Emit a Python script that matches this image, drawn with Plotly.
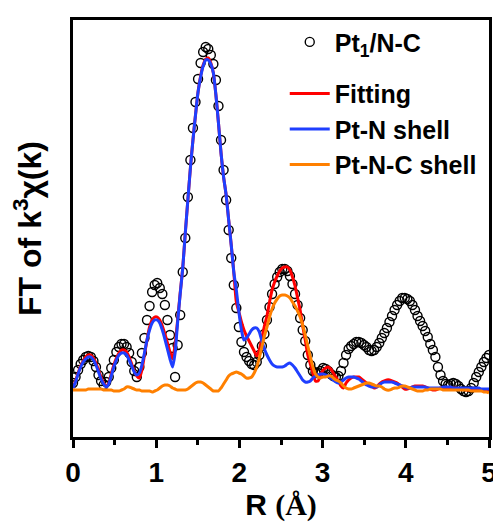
import numpy as np
import plotly.graph_objects as go

# R grid (Angstrom), spacing ~0.0307 A as in the measured FT
n_pts = 164
R = [i * 5.0 / 163 for i in range(n_pts)]

# experimental FT magnitude (arbitrary units)
pt1_nc = [54, 60, 67, 73, 77, 80, 81, 80, 76, 70, 62, 56, 52, 55, 60, 69, 77, 85, 90, 93,
          93, 90, 84, 75, 66, 60, 70, 84, 99, 117, 131, 145, 152, 154, 149, 143, 132, 117, 102, 89,
          60, 92, 122, 165, 199, 240, 277, 309, 335, 358, 374, 385, 390, 388, 382, 373, 357, 331, 297, 267,
          237, 207, 179, 152, 129, 110, 95, 85, 80, 76, 73, 72, 75, 82, 91, 103, 117, 130, 143, 153,
          160, 165, 168, 168, 166, 161, 153, 143, 132, 119, 107, 96, 82, 72, 66, 64, 64, 66, 69, 68,
          66, 63, 61, 60, 61, 66, 74, 82, 88, 91, 93, 95, 95, 94, 92, 90, 87, 86, 87, 90,
          94, 99, 104, 109, 115, 121, 127, 132, 136, 139, 139, 138, 136, 132, 127, 121, 116, 111, 106, 100,
          93, 87, 80, 70, 62, 56, 53, 52, 53, 54, 53, 51, 48, 46, 45, 46, 49, 54, 60, 65,
          70, 75, 79, 82]

fitting = [49, 56, 64, 71, 76, 80, 82, 82, 79, 74, 67, 60, 54, 50, 54, 63, 72, 79, 84, 87,
           87, 85, 80, 73, 66, 61, 59, 67, 82, 97, 110, 117, 120, 120, 117, 111, 103, 94, 85, 78,
           92, 117, 144, 169, 204, 237, 269, 297, 322, 345, 361, 372, 378, 379, 374, 364, 342, 314, 284, 260,
           242, 217, 192, 165, 135, 125, 115, 107, 101, 96, 91, 86, 81, 87, 99, 111, 121, 135, 147, 155,
           161, 166, 169, 170, 170, 167, 160, 151, 139, 127, 111, 97, 82, 73, 64, 56, 56, 62, 67, 69,
           70, 68, 64, 60, 56, 51, 49, 54, 57, 59, 60, 60, 60, 58, 56, 54, 52, 51, 49, 50,
           53, 55, 56, 57, 57, 56, 55, 54, 52, 50, 48, 48, 49, 50, 51, 51, 51, 51, 50, 49,
           48, 47, 47, 48, 49, 49, 49, 48, 48, 49, 49, 48, 48, 48, 47, 47, 47, 47, 47, 47,
           47, 46, 46, 46]

pt_n_shell = [49, 55, 63, 70, 75, 78, 80, 80, 77, 72, 65, 58, 53, 50, 53, 61, 70, 77, 82, 84,
              84, 82, 77, 71, 65, 62, 64, 72, 84, 97, 107, 114, 117, 117, 114, 107, 98, 88, 78, 70,
              84, 115, 143, 169, 204, 237, 269, 297, 322, 345, 360, 371, 377, 377, 373, 364, 342, 314, 284, 260,
              242, 217, 192, 165, 147, 125, 107, 97, 99, 103, 107, 109, 109, 105, 96, 88, 82, 77, 73, 71,
              70, 70, 70, 71, 73, 74, 72, 69, 65, 61, 57, 55, 55, 56, 59, 61, 62, 63, 63, 62,
              61, 59, 57, 55, 54, 55, 57, 59, 60, 60, 60, 59, 58, 56, 54, 52, 51, 50, 50, 50,
              52, 54, 55, 55, 55, 55, 54, 53, 52, 51, 50, 49, 49, 50, 50, 50, 50, 50, 50, 49,
              49, 49, 49, 49, 49, 50, 50, 50, 50, 49, 49, 49, 49, 49, 49, 49, 49, 49, 49, 49,
              48, 48, 48, 48]

pt_nc_shell = [47, 47, 47, 47, 47, 47, 48, 48, 48, 48, 48, 48, 47, 47, 47, 47, 46, 46, 46, 47,
               48, 50, 50, 49, 48, 47, 47, 46, 46, 46, 46, 45, 46, 47, 49, 51, 52, 52, 51, 49,
               48, 47, 47, 47, 47, 48, 50, 52, 54, 55, 55, 54, 52, 50, 48, 46, 46, 46, 49, 53,
               57, 61, 63, 64, 65, 64, 63, 61, 59, 59, 60, 64, 70, 79, 90, 101, 110, 120, 128, 134,
               138, 141, 142, 142, 141, 139, 135, 131, 126, 120, 112, 102, 91, 80, 70, 63, 60, 59, 60, 60,
               61, 61, 59, 57, 56, 54, 51, 49, 48, 48, 49, 50, 51, 52, 53, 54, 54, 53, 52, 51,
               51, 50, 48, 47, 47, 48, 49, 49, 50, 51, 51, 50, 49, 48, 47, 46, 46, 46, 47, 47,
               48, 48, 48, 48, 48, 47, 47, 47, 47, 47, 47, 47, 47, 47, 47, 47, 46, 46, 46, 46,
               46, 45, 45, 44]

FONT = "Liberation Sans, Arial, sans-serif"

fig = go.Figure()
fig.add_trace(go.Scatter(
    x=R, y=pt1_nc, mode="markers", name="Pt<sub>1</sub>/N-C", legendgroup="exp",
    marker=dict(symbol="circle-open", size=9, color="black", line=dict(width=1.4, color="black"))))
fig.add_trace(go.Scatter(x=R, y=fitting, mode="lines", name="Fitting", legendgroup="fit",
                         line=dict(color="#ff0000", width=3, shape="spline", smoothing=0.6)))
fig.add_trace(go.Scatter(x=R, y=pt_n_shell, mode="lines", name="Pt-N shell", legendgroup="fit",
                         line=dict(color="#1f3fff", width=3, shape="spline", smoothing=0.6)))
fig.add_trace(go.Scatter(x=R, y=pt_nc_shell, mode="lines", name="Pt-N-C shell", legendgroup="fit",
                         line=dict(color="#ff8000", width=3, shape="spline", smoothing=0.6)))

fig.update_layout(
    width=493, height=518,
    margin=dict(l=65, r=12, t=12, b=89, autoexpand=False),
    paper_bgcolor="white", plot_bgcolor="white",
    font=dict(family=FONT, color="black", size=24, weight="bold"),
    showlegend=True,
    legend=dict(x=0.509, y=1.002, xanchor="left", yanchor="top",
                bgcolor="rgba(0,0,0,0)", borderwidth=0,
                font=dict(family=FONT, size=25, color="black", weight="bold"),
                itemwidth=40, tracegroupgap=16, traceorder="grouped"),
    xaxis=dict(range=[0, 5], dtick=1, tick0=0, showgrid=False, zeroline=False, automargin=False,
               showline=True, linewidth=3, linecolor="black", mirror=True,
               ticks="outside", ticklen=8, tickwidth=3, tickcolor="black",
               minor=dict(dtick=0.5, ticks="outside", ticklen=5, tickwidth=3, tickcolor="black"),
               tickfont=dict(family=FONT, size=28, weight="bold"),
               title=dict(text="R <span style=\"font-family:Liberation Serif\">(Å)</span>",
                          font=dict(family=FONT, size=30, weight="bold"), standoff=6)),
    yaxis=dict(range=[0, 417], showgrid=False, zeroline=False, showticklabels=False, automargin=False,
               ticks="", showline=True, linewidth=3, linecolor="black", mirror=True,
               title=dict(text="FT of k<sup>3</sup>χ(k)",
                          font=dict(family=FONT, size=32, weight="bold"), standoff=20)),
)

fig.write_html("out.html")
